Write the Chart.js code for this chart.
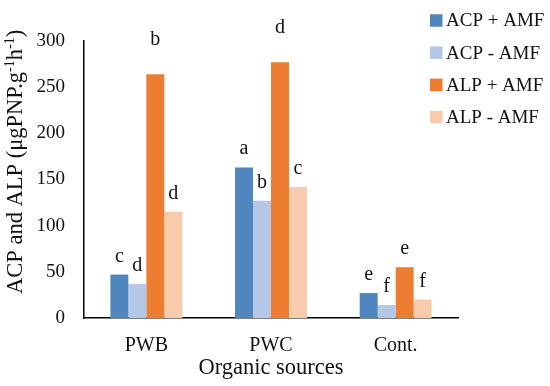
<!DOCTYPE html>
<html>
<head>
<meta charset="utf-8">
<script src="https://cdn.jsdelivr.net/npm/chart.js@4"></script>
<style>
html,body{margin:0;padding:0;background:#fff;}
#wrap{width:550px;height:386px;position:relative;}
</style>
</head>
<body>
<div id="wrap"><canvas id="c" width="550" height="386"></canvas></div>
<script>
const categories = ["PWB", "PWC", "Cont."];
const seriesNames = ["ACP + AMF", "ACP - AMF", "ALP + AMF", "ALP - AMF"];
const acpPlus  = [47, 163, 27];
const acpMinus = [37, 127, 14];
const alpPlus  = [264, 277, 55];
const alpMinus = [115, 142, 20];
// significance letters above each bar
const lettersAcpPlus  = ["c", "a", "e"];
const lettersAcpMinus = ["d", "b", "f"];
const lettersAlpPlus  = ["b", "d", "e"];
const lettersAlpMinus = ["d", "c", "f"];
// hidden error margin above ALP + AMF bars (letters sit above it)
const errAlpPlus = [18, 18, 0];
const yTicks = [0, 50, 100, 150, 200, 250, 300];

const colors = ["#4f86bd", "#b4c7e7", "#ed7d31", "#f8cbad"];
const serif = "'Liberation Serif', 'Times New Roman', serif";

const letterPlugin = {
  id: 'letters',
  afterDatasetsDraw(chart) {
    const ctx = chart.ctx;
    const sets = [lettersAcpPlus, lettersAcpMinus, lettersAlpPlus, lettersAlpMinus];
    const errs = [null, null, errAlpPlus, null];
    const y = chart.scales.y;
    ctx.save();
    ctx.font = "20px " + serif;
    ctx.fillStyle = "#111";
    ctx.textAlign = "center";
    ctx.textBaseline = "alphabetic";
    chart.data.datasets.forEach((ds, i) => {
      const meta = chart.getDatasetMeta(i);
      meta.data.forEach((bar, j) => {
        const v = ds.data[j] + (errs[i] ? errs[i][j] : 0);
        const py = y.getPixelForValue(v);
        ctx.fillText(sets[i][j], bar.x, py - 13);
      });
    });
    ctx.restore();
  }
};

const legendPlugin = {
  id: 'customLegend',
  afterDraw(chart) {
    const ctx = chart.ctx;
    ctx.save();
    ctx.font = "19px " + serif;
    ctx.textBaseline = "middle";
    ctx.textAlign = "left";
    chart.data.datasets.forEach((ds, i) => {
      const cy = 20.5 + i * 32.2;
      ctx.fillStyle = ds.backgroundColor;
      ctx.fillRect(430, cy - 6.25, 12.5, 12.5);
      ctx.fillStyle = "#111";
      ctx.fillText(ds.label, 446, cy + 1);
    });
    ctx.restore();
  }
};

const yTitlePlugin = {
  id: 'yTitle',
  afterDraw(chart) {
    const ctx = chart.ctx;
    ctx.save();
    ctx.translate(16, 294);
    ctx.rotate(-Math.PI / 2);
    ctx.fillStyle = "#111";
    ctx.textBaseline = "middle";
    ctx.textAlign = "left";
    const big = "22.5px " + serif, small = "14px " + serif;
    const parts = [["ACP and ALP (\u03BCgPNP.g", big, 0], ["-1", small, -6], ["h", big, 0], ["-1", small, -6], [")", big, 0]];
    let x = 0;
    parts.forEach(p => {
      ctx.font = p[1];
      ctx.fillText(p[0], x, p[2]);
      x += ctx.measureText(p[0]).width;
    });
    ctx.restore();
  }
};

new Chart(document.getElementById('c'), {
  type: 'bar',
  data: {
    labels: categories,
    datasets: [
      { label: seriesNames[0], data: acpPlus,  backgroundColor: colors[0] },
      { label: seriesNames[1], data: acpMinus, backgroundColor: colors[1] },
      { label: seriesNames[2], data: alpPlus,  backgroundColor: colors[2] },
      { label: seriesNames[3], data: alpMinus, backgroundColor: colors[3] }
    ]
  },
  options: {
    responsive: false,
    animation: false,
    devicePixelRatio: 1,
    layout: { padding: { top: 41, right: 92, bottom: 0, left: 0 } },
    datasets: { bar: { categoryPercentage: 0.577, barPercentage: 1.0, borderWidth: 0 } },
    plugins: { legend: { display: false }, tooltip: { enabled: false } },
    scales: {
      x: {
        afterFit(s) { s.height = 68; },
        grid: { display: false, drawTicks: false },
        border: { display: true, color: "#000", width: 1.5 },
        ticks: { color: "#111", font: { family: serif, size: 20 }, padding: 16 },
        title: { display: true, text: "Organic sources", color: "#111", font: { family: serif, size: 22.5 }, padding: { top: 0, bottom: 4 } }
      },
      y: {
        min: 0, max: 300,
        afterFit(s) { s.width = 84; },
        afterBuildTicks(s) { s.ticks = yTicks.map(v => ({ value: v })); },
        grid: { display: false, drawTicks: true, tickLength: 7, tickColor: "#000", tickWidth: 1.3 },
        border: { display: true, color: "#000", width: 1.5 },
        ticks: { color: "#111", font: { family: serif, size: 19 }, padding: 12 }
      }
    }
  },
  plugins: [letterPlugin, legendPlugin, yTitlePlugin]
});
</script>
</body>
</html>
